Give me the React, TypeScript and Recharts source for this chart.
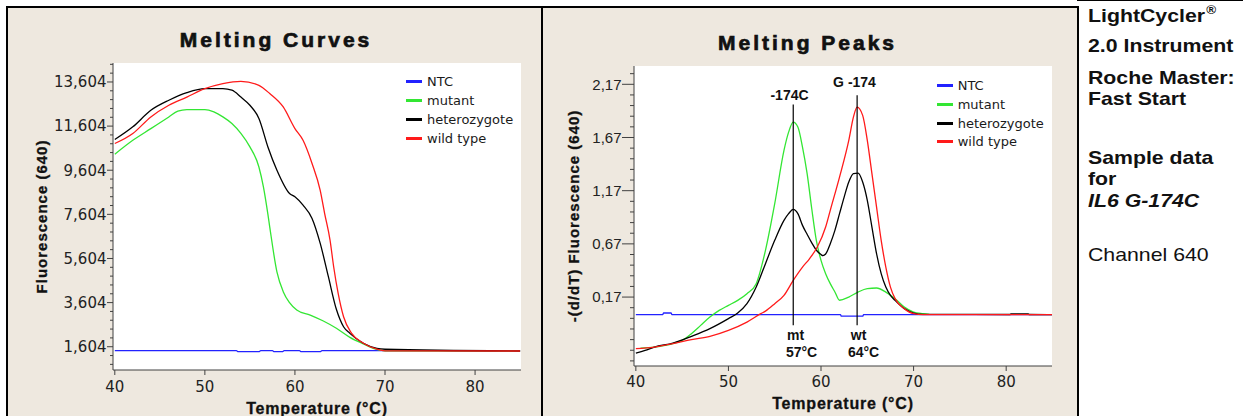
import React from 'react';
import { LineChart, Line, XAxis, YAxis, CartesianGrid, Legend, ReferenceLine, ReferenceDot } from 'recharts';

// ---------- shared series info ----------
const seriesNames = ['NTC', 'mutant', 'heterozygote', 'wild type'];
const seriesColors = ['#2222ff', '#33e633', '#000000', '#ff1a1a'];

// ---------- Melting Curves (left) ----------
const curveNtcT = [40, 53.5, 53.7, 56.0, 56.2, 57.5, 57.7, 58.6, 58.8, 60.5, 60.7, 62.8, 63.0, 85];
const curveNtcV = [1425, 1425, 1380, 1380, 1425, 1425, 1380, 1380, 1425, 1425, 1380, 1380, 1425, 1420];

const curveMutT = [40, 42, 44, 46, 47, 48, 50, 51, 52, 53, 54, 55, 56, 56.5, 57, 57.2, 58, 58.7, 59.4, 60.2, 61.7, 63.1, 64.6, 66.1, 67.6, 68.7, 69.4, 70, 85];
const curveMutV = [10330, 10960, 11490, 12020, 12280, 12350, 12350, 12245, 12020, 11720, 11270, 10660, 9750, 8850, 7600, 7040, 5000, 4100, 3600, 3270, 3040, 2780, 2440, 2030, 1730, 1530, 1455, 1420, 1410];

const curveHetT = [40, 42, 44, 46, 48, 50, 52, 53, 54, 55, 56, 57, 58, 59.4, 60, 60.9, 61.9, 62.8, 63.7, 64.6, 65.4, 66.1, 67.6, 69.1, 70, 85];
const curveHetV = [10995, 11570, 12320, 12775, 13120, 13300, 13300, 13230, 12920, 12550, 11950, 10660, 9605, 8550, 8400, 8020, 7420, 6300, 4800, 3300, 2510, 2210, 1760, 1530, 1490, 1410];

const curveWtT = [40, 42, 44, 46, 48, 50, 52, 54, 56, 57.2, 58.7, 60, 60.9, 61.9, 62.8, 63.3, 63.9, 64.3, 64.8, 65.4, 66.3, 67.6, 69.1, 70, 85];
const curveWtV = [10815, 11270, 12020, 12550, 12920, 13300, 13530, 13635, 13450, 13080, 12470, 11490, 10960, 9910, 8700, 7640, 6430, 5230, 4020, 2960, 2210, 1760, 1490, 1420, 1410];

const curveXTicks = [40, 50, 60, 70, 80];
const curveYMajor = [1604, 3604, 5604, 7604, 9604, 11604, 13604];
const curveYMinor = [804, 1204, 2004, 2404, 2804, 3204, 4004, 4404, 4804, 5204, 6004, 6404, 6804, 7204, 8004, 8404, 8804, 9204, 10004, 10404, 10804, 11204, 12004, 12404, 12804, 13204, 14004, 14404];

// ---------- Melting Peaks (right) ----------
const peakNtcT = [40, 42.9, 43.0, 43.8, 43.9, 62.1, 62.2, 64.5, 64.6, 85];
const peakNtcV = [0.005, 0.005, 0.02, 0.02, 0.005, 0.005, -0.01, -0.01, 0.005, 0.005];

const peakMutT = [40.5, 42, 44, 45, 46, 47, 48, 49, 50, 51, 52, 53, 54, 55, 56, 56.5, 57, 57.5, 58, 58.5, 59, 59.5, 60, 60.5, 61, 61.5, 62, 63, 64, 65, 66, 67, 68, 69, 70, 71, 71.7];
const peakMutV = [-0.31, -0.30, -0.268, -0.237, -0.174, -0.096, -0.018, 0.045, 0.092, 0.139, 0.202, 0.296, 0.609, 1.048, 1.549, 1.72, 1.815, 1.768, 1.58, 1.33, 1.0, 0.70, 0.515, 0.39, 0.296, 0.218, 0.14, 0.17, 0.217, 0.249, 0.255, 0.217, 0.155, 0.076, 0.029, 0.014, 0.008];

const peakHetT = [40, 41, 42, 44, 46, 48, 50, 51, 52, 53, 54, 55, 56, 56.5, 57, 57.5, 58, 58.5, 59, 59.5, 60, 60.2, 60.5, 61, 61.5, 62, 62.5, 63, 63.5, 64, 64.5, 65, 65.5, 66, 66.5, 67, 67.5, 68, 69, 70, 71, 80.4, 80.5, 82.4, 82.5, 85];
const peakHetV = [-0.356, -0.331, -0.30, -0.262, -0.199, -0.127, -0.033, 0.02, 0.108, 0.264, 0.484, 0.703, 0.891, 0.954, 0.994, 0.954, 0.844, 0.76, 0.68, 0.61, 0.57, 0.56, 0.575, 0.672, 0.797, 0.954, 1.11, 1.251, 1.33, 1.335, 1.251, 1.079, 0.828, 0.578, 0.39, 0.264, 0.186, 0.139, 0.061, 0.02, 0.008, 0.006, 0.012, 0.012, 0.006, 0.005];

const peakWtT = [40, 42, 44, 46, 48, 50, 52, 53.5, 54, 55, 56, 57, 58, 58.75, 59.6, 60.5, 61, 62, 63, 63.5, 63.9, 64.5, 65, 65.5, 66, 66.5, 67, 67.5, 68, 69, 70, 71, 85];
const peakWtV = [-0.315, -0.30, -0.268, -0.23, -0.199, -0.143, -0.065, 0.014, 0.038, 0.108, 0.186, 0.327, 0.452, 0.53, 0.64, 0.828, 0.985, 1.298, 1.643, 1.862, 1.956, 1.878, 1.643, 1.33, 1.016, 0.703, 0.452, 0.264, 0.155, 0.061, 0.014, 0.005, 0.005];

const peakXTicks = [40, 50, 60, 70, 80];
const peakYMajor = [0.17, 0.67, 1.17, 1.67, 2.17];
const peakYMinor = [-0.43, -0.33, -0.23, -0.13, -0.03, 0.07, 0.27, 0.37, 0.47, 0.57, 0.77, 0.87, 0.97, 1.07, 1.27, 1.37, 1.47, 1.57, 1.77, 1.87, 1.97, 2.07, 2.27];

// annotation markers (data units)
const peakMarkerT = [57, 63.9];
const peakMarkerTop = [1.98, 2.066];
const peakMarkerBottom = [-0.096, -0.096];
const peakLabelText = ['-174C', 'G -174', 'mt', '57°C', 'wt', '64°C'];
const peakLabelT = [56.6, 63.62, 57.26, 57.9, 64.06, 64.6];
const peakLabelV = [2.072, 2.187, -0.183, -0.347, -0.183, -0.347];

// side text
const sideText = [
  { text: 'LightCycler', sup: '®', baseline: 22, weight: 700, italic: false },
  { text: '2.0 Instrument', sup: '', baseline: 52, weight: 700, italic: false },
  { text: 'Roche Master:', sup: '', baseline: 84, weight: 700, italic: false },
  { text: 'Fast Start', sup: '', baseline: 105, weight: 700, italic: false },
  { text: 'Sample data', sup: '', baseline: 164, weight: 700, italic: false },
  { text: 'for', sup: '', baseline: 185, weight: 700, italic: false },
  { text: 'IL6 G-174C', sup: '', baseline: 207, weight: 700, italic: true },
  { text: 'Channel 640', sup: '', baseline: 261, weight: 400, italic: false },
];

// ---------- helpers ----------
const zip = (t: number[], v: number[]) => t.map((x, i) => ({ t: x, v: v[i] }));
const curveSeries = [zip(curveNtcT, curveNtcV), zip(curveMutT, curveMutV), zip(curveHetT, curveHetV), zip(curveWtT, curveWtV)];
const peakSeries = [zip(peakNtcT, peakNtcV), zip(peakMutT, peakMutV), zip(peakHetT, peakHetV), zip(peakWtT, peakWtV)];

const AXIS = '#404040';
const BEIGE = '#eee8df';
const ARIAL = '"Liberation Sans", Arial, sans-serif';
const DEJAVU = '"DejaVu Sans", sans-serif';

const makeYTick = (majors: number[], fmt: (v: number) => string, majorLen: number, minorLen: number, font: string) =>
  (props: any) => {
    const { x, y, payload } = props;
    const v = payload.value;
    const isMajor = majors.some((m) => Math.abs(m - v) < 1e-6);
    const len = isMajor ? majorLen : minorLen;
    return (
      <g>
        <line x1={x - len} y1={y} x2={x} y2={y} stroke={AXIS} strokeWidth={1} />
        {isMajor && (
          <text x={x - len - 0.5} y={y} dy="0.36em" textAnchor="end" fontFamily={font} fontSize={15} fill="#222">
            {fmt(v)}
          </text>
        )}
      </g>
    );
  };

const makeXTick = (center: number) => (props: any) => {
  const { x, y, payload } = props;
  return (
    <g>
      <line x1={x} y1={y} x2={x} y2={y + 5} stroke={AXIS} strokeWidth={1} />
      <text x={x} y={y + center} dy="0.36em" textAnchor="middle" fontFamily={DEJAVU} fontSize={15} fill="#222">
        {payload.value}
      </text>
    </g>
  );
};

const makeXLabel = (baseline: number) => (props: any) => {
  const vb = props.viewBox || { x: 0, y: 0, width: 0, height: 0 };
  return (
    <text x={vb.x + vb.width / 2} y={vb.y + baseline} textAnchor="middle" fontFamily={ARIAL} fontWeight={700} fontSize={16} fill="#111"
      stroke="#111" strokeWidth={0.3} style={{ letterSpacing: 0.8 }}>
      Temperature (°C)
    </text>
  );
};

const makeYLabel = (dx: number, text: string) => (props: any) => {
  const vb = props.viewBox || { x: 0, y: 0, width: 0, height: 0 };
  const cx = vb.x + dx;
  const cy = vb.y + vb.height / 2;
  return (
    <text x={cx} y={cy} dy="0.36em" textAnchor="middle" transform={`rotate(-90, ${cx}, ${cy})`} fontFamily={ARIAL} fontWeight={700} fontSize={15} fill="#111"
      stroke="#111" strokeWidth={0.3} style={{ letterSpacing: 1 }}>
      {text}
    </text>
  );
};

const makeLegend = (rowH: number) => (props: any) => {
  const payload = [...(props.payload || [])].sort(
    (a: any, b: any) => seriesNames.indexOf(a.value) - seriesNames.indexOf(b.value)
  );
  return (
    <div style={{ fontFamily: DEJAVU, fontSize: 13, color: '#1a1a1a' }}>
      {payload.map((p: any) => (
        <div key={p.value} style={{ display: 'flex', alignItems: 'center', height: rowH, whiteSpace: 'nowrap' }}>
          <span style={{ display: 'inline-block', width: 16, height: 3, background: p.color, marginRight: 5 }} />
          <span>{p.value}</span>
        </div>
      ))}
    </div>
  );
};

const fmtThousands = (v: number) => Math.round(v).toLocaleString('en-US');
const fmtComma = (v: number) => v.toFixed(2).replace('.', ',');

const curveYTicks = [...curveYMajor, ...curveYMinor].sort((a, b) => a - b);
const peakYTicks = [...peakYMajor, ...peakYMinor].sort((a, b) => a - b);

const titleStyle: React.CSSProperties = {
  position: 'absolute',
  fontFamily: ARIAL,
  fontWeight: 700,
  fontSize: 21,
  lineHeight: '21px',
  letterSpacing: 3,
  color: '#111',
  textAlign: 'center',
  whiteSpace: 'nowrap',
  WebkitTextStroke: '0.7px #111',
};

export default function App() {
  const curveDomX: [number, number] = [39.8, 85.1];
  const curveDomY: [number, number] = [549, 14464];
  const peakDomX: [number, number] = [39.8, 84.95];
  const peakDomY: [number, number] = [-0.478, 2.342];

  return (
    <div style={{ position: 'absolute', left: 0, top: 0, width: 1243, height: 416, background: '#fff', overflow: 'hidden' }}>
      {/* frame */}
      <div style={{ position: 'absolute', left: 6, top: 6, width: 1073, height: 410, background: '#000' }} />
      <div style={{ position: 'absolute', left: 1077, top: 0, width: 166, height: 1, background: '#000' }} />
      <div style={{ position: 'absolute', left: 8, top: 8, width: 533, height: 408, background: BEIGE }} />
      <div style={{ position: 'absolute', left: 543, top: 8, width: 534, height: 408, background: BEIGE }} />

      {/* titles */}
      <div style={{ ...titleStyle, left: 8, top: 29, width: 533, paddingLeft: 3, boxSizing: 'border-box' }}>Melting Curves</div>
      <div style={{ ...titleStyle, left: 543, top: 32, width: 534, paddingRight: 5, boxSizing: 'border-box' }}>Melting Peaks</div>

      {/* left chart */}
      <div style={{ position: 'absolute', left: 8, top: 8, width: 533, height: 408 }}>
        <LineChart width={533} height={408} margin={{ top: 55, right: 20, left: 0, bottom: 0 }}>
          <CartesianGrid horizontal={false} vertical={false} fill="#ffffff" />
          <XAxis dataKey="t" type="number" domain={curveDomX} allowDataOverflow ticks={curveXTicks} interval={0}
            tickSize={0} tickMargin={0} tickLine={false} tick={makeXTick(16.7)} height={46}
            axisLine={{ stroke: AXIS }} label={makeXLabel(44)} />
          <XAxis xAxisId="top" orientation="top" dataKey="t" type="number" domain={curveDomX} allowDataOverflow
            tick={false} tickLine={false} height={0} axisLine={{ stroke: AXIS }} />
          <YAxis type="number" domain={curveDomY} allowDataOverflow ticks={curveYTicks} interval={0} width={105}
            tickSize={0} tickMargin={0} tickLine={false}
            tick={makeYTick(curveYMajor, fmtThousands, 6, 3, DEJAVU)}
            axisLine={{ stroke: AXIS }} label={makeYLabel(34, 'Fluorescence (640)')} />
          <YAxis yAxisId="right" orientation="right" type="number" domain={curveDomY} allowDataOverflow
            tick={false} tickLine={false} width={0} axisLine={{ stroke: AXIS }} />
          <Legend layout="vertical" align="center" verticalAlign="middle" content={makeLegend(19)}
            wrapperStyle={{ left: 398, top: 63.5, width: 'auto', height: 'auto', right: 'auto', bottom: 'auto' }} />
          {curveSeries.map((d, i) => (
            <Line key={seriesNames[i]} data={d} dataKey="v" name={seriesNames[i]} type="monotone"
              stroke={seriesColors[i]} strokeWidth={1.3} dot={false} activeDot={false} isAnimationActive={false} />
          ))}
        </LineChart>
      </div>

      {/* right chart */}
      <div style={{ position: 'absolute', left: 543, top: 8, width: 534, height: 408 }}>
        <LineChart width={534} height={408} margin={{ top: 58, right: 25, left: 0, bottom: 0 }}>
          <CartesianGrid horizontal={false} vertical={false} fill="#ffffff" />
          <XAxis dataKey="t" type="number" domain={peakDomX} allowDataOverflow ticks={peakXTicks} interval={0}
            tickSize={0} tickMargin={0} tickLine={false} tick={makeXTick(16)} height={50}
            axisLine={{ stroke: AXIS }} label={makeXLabel(43.3)} />
          <XAxis xAxisId="top" orientation="top" dataKey="t" type="number" domain={peakDomX} allowDataOverflow
            tick={false} tickLine={false} height={0} axisLine={{ stroke: AXIS }} />
          <YAxis type="number" domain={peakDomY} allowDataOverflow ticks={peakYTicks} interval={0} width={91}
            tickSize={0} tickMargin={0} tickLine={false}
            tick={makeYTick(peakYMajor, fmtComma, 12, 4, ARIAL)}
            axisLine={{ stroke: AXIS }} label={makeYLabel(30.3, '-(d/dT) Fluorescence (640)')} />
          <YAxis yAxisId="right" orientation="right" type="number" domain={peakDomY} allowDataOverflow
            tick={false} tickLine={false} width={0} axisLine={{ stroke: AXIS }} />
          <Legend layout="vertical" align="center" verticalAlign="middle" content={makeLegend(18.8)}
            wrapperStyle={{ left: 393.7, top: 68.2, width: 'auto', height: 'auto', right: 'auto', bottom: 'auto' }} />
          {peakSeries.map((d, i) => (
            <Line key={seriesNames[i]} data={d} dataKey="v" name={seriesNames[i]} type="monotone"
              stroke={seriesColors[i]} strokeWidth={1.3} dot={false} activeDot={false} isAnimationActive={false} />
          ))}
          {peakMarkerT.map((t, i) => (
            <ReferenceLine key={'m' + i} segment={[{ x: t, y: peakMarkerTop[i] }, { x: t, y: peakMarkerBottom[i] }]}
              stroke="#000" strokeWidth={1.2} />
          ))}
          {peakLabelText.map((txt, i) => (
            <ReferenceDot key={'l' + i} x={peakLabelT[i]} y={peakLabelV[i]} r={0} fill="none" stroke="none"
              label={{ value: txt, position: 'center', fill: '#111', fontSize: 14, fontWeight: 700, fontFamily: ARIAL }} />
          ))}
        </LineChart>
      </div>

      {/* side text */}
      {sideText.map((s) => (
        <div key={s.text} style={{
          position: 'absolute', left: 1088, top: s.baseline - 16.1, fontFamily: ARIAL, fontSize: 19, lineHeight: '19px',
          fontWeight: s.weight, fontStyle: s.italic ? 'italic' : 'normal', color: '#111', whiteSpace: 'nowrap',
          transform: 'scaleX(1.12)', transformOrigin: 'left center',
        }}>
          {s.text}
          {s.sup && <span style={{ fontSize: 12, position: 'relative', top: -8, marginLeft: 1 }}>{s.sup}</span>}
        </div>
      ))}
    </div>
  );
}
